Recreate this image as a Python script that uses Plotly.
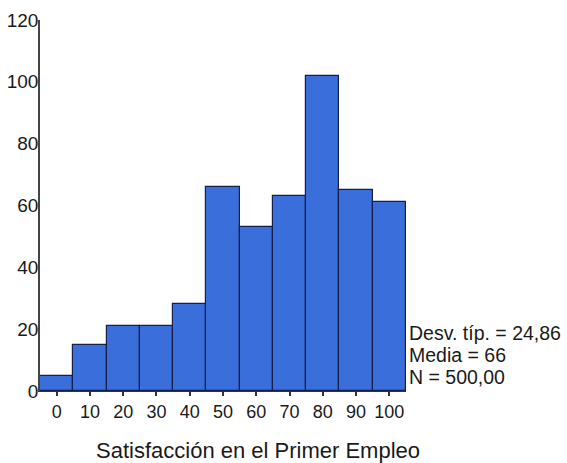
import plotly.graph_objects as go

# Data
bin_centers = [0, 10, 20, 30, 40, 50, 60, 70, 80, 90, 100]
counts = [5, 15, 21, 21, 28, 66, 53, 63, 102, 65, 61]
y_ticks = [0, 20, 40, 60, 80, 100, 120]
x_title = "Satisfacción en el Primer Empleo"
stats_lines = ["Desv. típ. = 24,86", "Media = 66", "N = 500,00"]

W, H = 567, 463
L, R, T, B = 40, 161, 20, 72
plot_w = W - L - R
plot_h = H - T - B

def px_to_paper_x(px):
    return (px - L) / plot_w

def px_to_paper_y(py):
    return (H - B - py) / plot_h

FONT = "Liberation Sans, Arial, sans-serif"

fig = go.Figure()
fig.add_trace(go.Bar(
    x=bin_centers,
    y=counts,
    width=10,
    marker=dict(color="#3a6edb", line=dict(color="#14204a", width=1.2)),
    hoverinfo="x+y",
))

annotations = []
for i, line in enumerate(stats_lines):
    annotations.append(dict(
        text=line, xref="paper", yref="paper",
        x=px_to_paper_x(407), y=px_to_paper_y(333 + 22 * i),
        xanchor="left", yanchor="middle", showarrow=False,
        font=dict(family=FONT, size=19.5, color="#1a1a1a"),
    ))
annotations.append(dict(
    text=x_title, xref="paper", yref="paper",
    x=px_to_paper_x(257.5), y=px_to_paper_y(450),
    xanchor="center", yanchor="middle", showarrow=False,
    font=dict(family=FONT, size=22, color="#1a1a1a"),
))

fig.update_layout(
    width=W, height=H,
    margin=dict(l=L, r=R, t=T, b=B, pad=0, autoexpand=False),
    paper_bgcolor="white", plot_bgcolor="white",
    showlegend=False,
    bargap=0,
    annotations=annotations,
    font=dict(family=FONT, color="#1a1a1a"),
)
fig.update_xaxes(
    automargin=False,
    range=[-5, 105],
    tickmode="array", tickvals=bin_centers, ticktext=[str(v) for v in bin_centers],
    ticks="outside", ticklen=4, tickwidth=2, tickcolor="#333",
    showline=True, linecolor="#333", linewidth=1,
    showgrid=False, zeroline=False,
    tickfont=dict(family=FONT, size=18, color="#1a1a1a"),
)
fig.update_yaxes(
    automargin=False,
    range=[0, 120],
    tickmode="array", tickvals=y_ticks, ticktext=[str(v) for v in y_ticks],
    ticks="", showline=True, linecolor="#444", linewidth=1.5,
    showgrid=False, zeroline=False,
    ticklabelstandoff=-4,
    tickfont=dict(family=FONT, size=19, color="#1a1a1a"),
)

fig.write_html(
    "out.html",
    config={"displayModeBar": False},
    post_script="document.body.style.margin='0px';document.body.style.overflow='hidden';",
)
